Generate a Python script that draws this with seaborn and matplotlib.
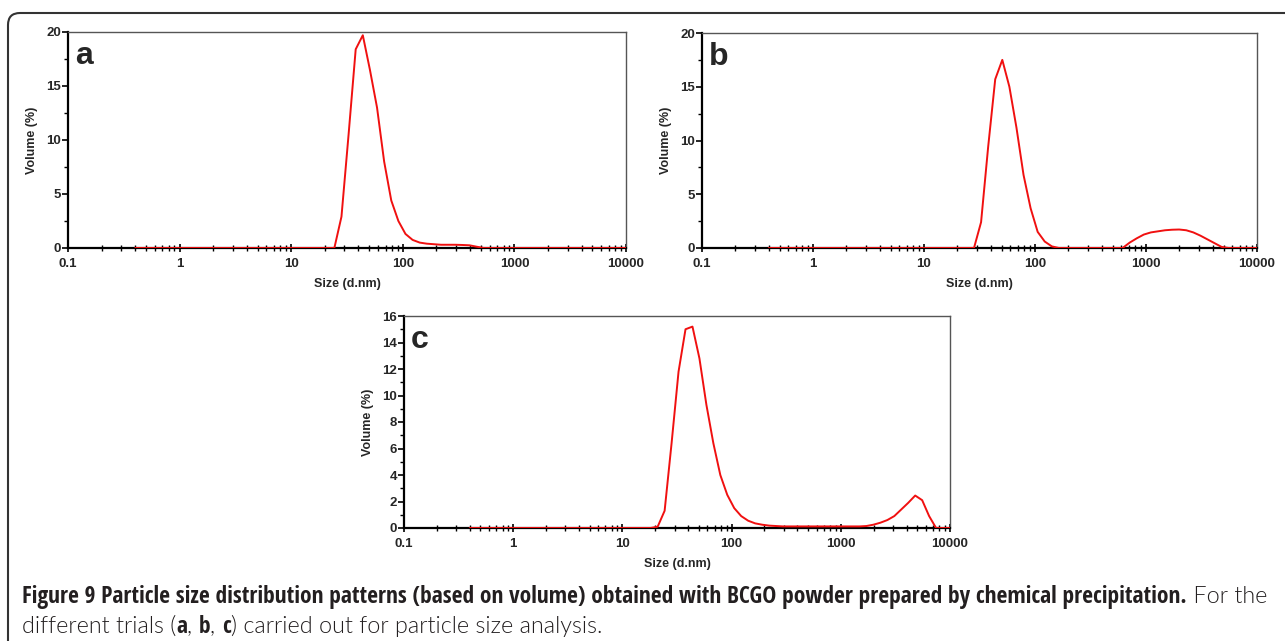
import numpy as np
import pandas as pd
import matplotlib
matplotlib.use("Agg")
import matplotlib.pyplot as plt
import seaborn as sns
from matplotlib import font_manager
from matplotlib.ticker import FixedLocator, FixedFormatter, NullFormatter
from matplotlib.patches import FancyBboxPatch
from matplotlib.transforms import IdentityTransform

# ---------------- data ----------------
size_a = [0.4, 24.36, 28.21, 32.67, 37.84, 43.82, 50.75, 58.77, 68.06, 78.82, 91.28,
          105.7, 122.4, 141.8, 164.2, 190.1, 220.2, 255.0, 295.3, 342.0, 396.1, 458.7,
          531.2, 10000]
vol_a = [0, 0, 2.9, 10.5, 18.4, 19.7, 16.5, 13.0, 8.0, 4.4, 2.5,
         1.3, 0.75, 0.5, 0.4, 0.35, 0.3, 0.3, 0.3, 0.28, 0.25, 0.12,
         0, 0]

size_b = [0.4, 28.21, 32.67, 37.84, 43.82, 50.75, 58.77, 68.06, 78.82, 91.28, 105.7,
          122.4, 141.8, 164.2, 615.1, 712.4, 825.0, 955.4, 1106, 1281, 1484, 1718,
          1990, 2305, 2669, 3091, 3580, 4145, 4801, 5560, 10000]
vol_b = [0, 0, 2.4, 9.4, 15.7, 17.5, 15.0, 11.2, 6.8, 3.7, 1.5,
         0.6, 0.15, 0, 0, 0.5, 0.9, 1.25, 1.45, 1.55, 1.65, 1.7,
         1.72, 1.65, 1.45, 1.15, 0.8, 0.45, 0.1, 0, 0]

size_c = [0.4, 18.17, 21.04, 24.36, 28.21, 32.67, 37.84, 43.82, 50.75, 58.77, 68.06,
          78.82, 91.28, 105.7, 122.4, 141.8, 164.2, 190.1, 220.2, 255.0, 295.3,
          1106, 1281, 1484, 1718, 1990, 2305, 2669, 3091, 3580, 4145, 4801, 5560,
          6439, 7456, 10000]
vol_c = [0, 0, 0.1, 1.3, 6.4, 11.8, 15.0, 15.2, 12.8, 9.3, 6.4,
         4.0, 2.5, 1.5, 0.9, 0.55, 0.35, 0.25, 0.18, 0.15, 0.12,
         0.12, 0.12, 0.12, 0.15, 0.25, 0.4, 0.6, 0.9, 1.4, 1.9, 2.45, 2.1,
         0.9, 0, 0]

x_major = [0.1, 1, 10, 100, 1000, 10000]
x_labels = ["0.1", "1", "10", "100", "1000", "10000"]
y_ticks_ab = [0, 5, 10, 15, 20]
y_ticks_c = [0, 2, 4, 6, 8, 10, 12, 14, 16]
panel_letters = ["a", "b", "c"]
x_title = "Size (d.nm)"
y_title = "Volume (%)"

caption_bold1 = ("Figure 9 Particle size distribution patterns (based on volume) obtained with "
                 "BCGO powder prepared by chemical precipitation.")
caption_norm1 = " For the"
caption_line2 = [("different trials (", False), ("a", True), (", ", False), ("b", True),
                 (", ", False), ("c", True), (") carried out for particle size analysis.", False)]

# ---------------- style ----------------
sns.set_theme(style="ticks")
plt.rcParams["font.family"] = ["Liberation Sans", "DejaVu Sans"]

W, H = 1285, 641
fig = plt.figure(figsize=(W / 100, H / 100), dpi=100)
fig.patch.set_facecolor("white")

def px_axes(left, right, top, bottom):
    return [left / W, (H - bottom) / H, (right - left) / W, (bottom - top) / H]

boxes = [px_axes(68, 626, 32, 248), px_axes(702, 1257, 33, 248), px_axes(404, 950, 316, 528)]
datasets = [(size_a, vol_a, y_ticks_ab, 20, [2.5, 7.5, 12.5, 17.5]),
            (size_b, vol_b, y_ticks_ab, 20, [2.5, 7.5, 12.5, 17.5]),
            (size_c, vol_c, y_ticks_c, 16, [1, 3, 5, 7, 9, 11, 13, 15])]

minor_x = []
for dec in x_major[:-1]:
    for m in range(2, 10):
        minor_x.append(dec * m)

for box, (xs, ys, yt, ymax, yminor), letter in zip(boxes, datasets, panel_letters):
    ax = fig.add_axes(box)
    df = pd.DataFrame({"size": xs, "vol": ys})
    sns.lineplot(data=df, x="size", y="vol", ax=ax, color="#f01010", lw=1.4,
                 estimator=None, sort=False, zorder=3)
    ax.set_xscale("log")
    ax.set_xlim(0.1, 10000)
    ax.set_ylim(0, ymax)
    ax.xaxis.set_major_locator(FixedLocator(x_major))
    ax.xaxis.set_major_formatter(FixedFormatter(x_labels))
    ax.xaxis.set_minor_locator(FixedLocator(minor_x))
    ax.xaxis.set_minor_formatter(NullFormatter())
    ax.yaxis.set_major_locator(FixedLocator(yt))
    ax.yaxis.set_major_formatter(FixedFormatter([str(v) for v in yt]))
    ax.yaxis.set_minor_locator(FixedLocator(yminor))
    ax.tick_params(axis="x", which="major", direction="inout", length=6, width=1.2,
                   color="black", labelsize=9.5, pad=4)
    ax.tick_params(axis="x", which="minor", direction="inout", length=4, width=1.0,
                   color="black")
    ax.tick_params(axis="y", which="major", direction="out", length=4, width=1.2,
                   color="black", labelsize=9.5, pad=1)
    ax.tick_params(axis="y", which="minor", direction="out", length=3, width=1.0,
                   color="black")
    for lab in ax.get_xticklabels() + ax.get_yticklabels():
        lab.set_fontweight("bold")
    ax.set_xlabel(x_title, fontsize=9, fontweight="bold", labelpad=6)
    ax.set_ylabel(y_title, fontsize=9, fontweight="bold", labelpad=6)
    for side in ["left", "bottom"]:
        ax.spines[side].set_color("black")
        ax.spines[side].set_linewidth(1.6)
    for side in ["top", "right"]:
        ax.spines[side].set_visible(True)
        ax.spines[side].set_color("#555555")
        ax.spines[side].set_linewidth(1.0)
    ax.grid(False)
    ax.set_facecolor("white")
    ax.annotate(letter, xy=(0, 1), xycoords="axes fraction", xytext=(5, -23),
                textcoords="offset points", fontsize=23, fontweight="bold",
                ha="left", va="baseline")

# ---------------- rounded frame ----------------
frame = FancyBboxPatch((8, -200), 2000, (H - 13) + 200,
                       boxstyle="round,pad=0,rounding_size=12",
                       transform=IdentityTransform(), fill=False,
                       edgecolor="#333333", linewidth=1.5, clip_on=False)
fig.patches.append(frame)

# ---------------- caption fonts ----------------
weights = {}
for f in font_manager.fontManager.ttflist:
    w = f.weight
    if isinstance(w, str):
        w = font_manager.weight_dict.get(w, 400)
    weights.setdefault(f.name, set()).add(w)

def pick(cands, want_bold):
    for c in cands:
        ws = weights.get(c, set())
        if want_bold and any(w >= 600 for w in ws):
            return c, 700
        if not want_bold and any(w <= 400 for w in ws):
            return c, min((w for w in ws if w <= 400), key=lambda v: abs(v - 300))
    return "DejaVu Sans", (700 if want_bold else 400)

bold_fam, bold_w = pick(["Open Sans Condensed", "Liberation Sans Narrow", "Roboto Condensed",
                         "Open Sans", "Lato"], True)
norm_fam, norm_w = pick(["Lato", "Open Sans", "Noto Sans", "Liberation Sans"], False)

fig.canvas.draw()
renderer = fig.canvas.get_renderer()

def run_width(s, fam, wt, fs):
    t = fig.text(0, 0, "|" + s + "|", fontsize=fs, family=fam, fontweight=wt)
    t2 = fig.text(0, 0, "||", fontsize=fs, family=fam, fontweight=wt)
    w = t.get_window_extent(renderer).width - t2.get_window_extent(renderer).width
    t.remove(); t2.remove()
    return w

# normal font size: fit line 2 to end at x ~ 605
w2 = sum(run_width(s, norm_fam, norm_w, 10.0) for s, _ in caption_line2)
fs_norm = 10.0 * (605 - 22) / w2
# bold size: line 1 spans 22 -> 1268
w_for = run_width(caption_norm1, norm_fam, norm_w, fs_norm)
w_b = run_width(caption_bold1, bold_fam, bold_w, 10.0)
fs_bold = 10.0 * ((1268 - 22) - w_for) / w_b

def put(x, ybase, s, bold):
    if bold:
        fam, wt, fs = bold_fam, bold_w, fs_bold
    else:
        fam, wt, fs = norm_fam, norm_w, fs_norm
    fig.text(x / W, (H - ybase) / H, s, fontsize=fs, family=fam, fontweight=wt,
             color="#231f20", ha="left", va="baseline")
    return x + run_width(s, fam, wt, fs)

x = put(22, 603, caption_bold1, True)
put(x, 603, caption_norm1, False)
x = 22
for s, b in caption_line2:
    x = put(x, 633, s, b)

fig.savefig("out.png", dpi=100, facecolor="white")
